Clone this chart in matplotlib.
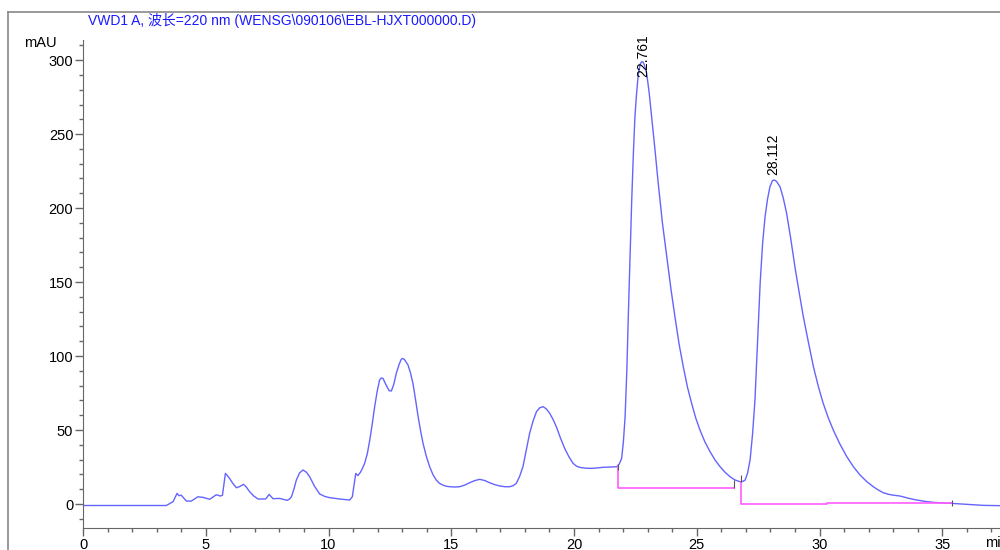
import matplotlib
matplotlib.use("Agg")
import matplotlib.pyplot as plt
from matplotlib.lines import Line2D
from matplotlib.ticker import MultipleLocator

plt.rcParams['font.family'] = ['Liberation Sans', 'Noto Sans CJK SC', 'DejaVu Sans']

# signal (min, mAU)
time = [0, 3.39, 3.67, 3.83, 3.91, 4.0, 4.21, 4.41, 4.68, 4.89, 5.16, 5.43, 5.59, 5.68,
        5.80, 5.88, 5.97, 6.1, 6.25, 6.38, 6.54, 6.65, 6.79, 6.95, 7.13, 7.44, 7.58, 7.74,
        8.01, 8.31, 8.40, 8.49, 8.59, 8.69, 8.82, 8.96, 9.1, 9.23, 9.43, 9.64, 9.85, 10.05,
        10.46, 10.86, 10.97, 11.05, 11.11, 11.2, 11.3, 11.38, 11.47, 11.58, 11.68, 11.78,
        11.88, 11.98, 12.08, 12.15, 12.22, 12.30, 12.38, 12.47, 12.56, 12.66, 12.76, 12.88,
        12.96, 13.03, 13.10, 13.24, 13.34, 13.44, 13.55, 13.65, 13.75, 13.85, 13.98, 14.12,
        14.25, 14.39, 14.52, 14.66, 14.8, 14.94, 15.15, 15.34, 15.55, 15.75, 15.95, 16.16,
        16.36, 16.56, 16.77, 16.97, 17.18, 17.38, 17.52, 17.65, 17.78, 17.92, 18.05, 18.19,
        18.33, 18.47, 18.60, 18.74, 18.87, 19.01, 19.15, 19.28, 19.45, 19.62, 19.79, 19.96,
        20.1, 20.23, 20.43, 20.64, 20.9, 21.18, 21.5, 21.74, 21.84, 21.94, 22.01, 22.08,
        22.15, 22.21, 22.28, 22.35, 22.42, 22.48, 22.55, 22.62, 22.70, 22.76, 22.82, 22.88,
        22.96, 23.06, 23.16, 23.30, 23.43, 23.60, 23.78, 23.95, 24.11, 24.28, 24.45, 24.62,
        24.79, 24.96, 25.13, 25.33, 25.54, 25.75, 25.95, 26.15, 26.35, 26.55, 26.76, 26.88,
        26.97, 27.07, 27.17, 27.27, 27.37, 27.47, 27.58, 27.68, 27.78, 27.88, 27.98, 28.08,
        28.16, 28.25, 28.39, 28.52, 28.66, 28.83, 29.0, 29.17, 29.34, 29.55, 29.75, 29.95,
        30.15, 30.35, 30.56, 30.83, 31.11, 31.38, 31.65, 31.92, 32.19, 32.4, 32.6, 32.8,
        33.0, 33.28, 33.6, 33.96, 34.3, 34.64, 35.32, 36.0, 36.67, 37.35]
signal = [-1, -1, 1.6, 7.2, 5.6, 6, 2, 2, 4.9, 4.5, 3.2, 6.3, 5.4, 5.9,
          20.7, 19.2, 17.3, 14, 11, 11.8, 13.3, 11.5, 8.3, 5.5, 3.4, 3.4, 6.5, 3.6,
          3.8, 2.5, 3.2, 4.9, 10, 16.2, 21, 23, 21.5, 18.5, 12, 6.8, 5.1, 4.3,
          3.4, 2.7, 4.9, 14, 20.7, 19.2, 21.5, 24, 27.5, 34, 43.2, 54,
          65.8, 76, 83.8, 85.2, 84.9, 82, 79.3, 76.6, 76.4, 81, 88.3, 94.5,
          97.8, 98.4, 97.5, 93.9, 88.5, 81.5, 70, 59, 49.5, 41, 32.5, 25.2,
          20, 16.2, 14, 12.8, 12, 11.7, 11.5, 11.7, 12.8, 14.4, 15.8, 16.7,
          15.9, 14.4, 13.1, 12.2, 11.7, 11.7, 12.4, 14, 18.5, 25.2, 36, 47.7,
          56, 62.4, 65, 65.8, 64.3, 61.3, 57, 52.2, 44.5, 37.6, 32, 27.5,
          25.6, 24.8, 24.3, 24.1, 24.3, 24.8, 25, 25.2, 27, 30.9, 42, 59,
          90, 126.6, 165, 205.4, 238, 261.7, 278, 291, 297.5, 299, 298.5, 296,
          291, 278, 261.7, 239, 216.7, 190, 167, 145, 126.6, 108, 92.8, 79,
          68, 58, 50, 42, 35.4, 29.6, 25.2, 21.5, 18.5, 16.3, 15.1, 15.3,
          16.2, 21, 29.7, 47, 70.3, 108, 149, 176, 194, 206, 214.4, 218.5,
          219, 218, 214.4, 207, 196.4, 179, 160, 143, 126.6, 109, 92.8, 79.5,
          68, 58.5, 50, 40.5, 32, 25.2, 19.6, 15.2, 11.7, 9.4, 7.6, 6.6,
          6.0, 5.4, 4.0, 2.7, 1.8, 1.1, 0.5, -0.2, -0.9, -1.1]

# integration baselines
base1_t = [21.78, 21.78, 26.53]
base1_y = [25.5, 11, 11]
base2_t = [26.8, 26.8, 30.3, 30.3, 35.4]
base2_y = [14.7, 0, 0, 0.4, 0.4]
event_t = [21.78, 26.53, 26.8, 35.4]
event_lo = [23, 11, 14.7, -1.5]
event_hi = [27, 16.5, 19.5, 2.5]

peak_rt = ['22.761', '28.112']
peak_x = [22.81, 28.1]
peak_y = [288.5, 222.5]

fig = plt.figure(figsize=(10, 5.5), dpi=100)
ax = fig.add_axes([0.083, 0.04, 0.917, 0.887])

ax.plot(time, signal, color='#6464ff', lw=1.0)
ax.plot(base1_t, base1_y, color='#ff5cff', lw=1.2)
ax.plot(base2_t, base2_y, color='#ff5cff', lw=1.2)
ax.vlines(event_t, event_lo, event_hi, color='#555555', lw=0.8)

for lab, x, y in zip(peak_rt, peak_x, peak_y):
    ax.text(x, y, lab, rotation=90, ha='center', va='bottom', fontsize=10)

ax.set_xlim(0, 37.35)
ax.set_ylim(-16.2, 313.5)
ax.xaxis.set_major_locator(MultipleLocator(5))
ax.xaxis.set_minor_locator(MultipleLocator(1))
ax.yaxis.set_major_locator(MultipleLocator(50))
ax.yaxis.set_minor_locator(MultipleLocator(10))
ax.tick_params(which='major', length=6, width=1, color='#666666', labelsize=10.5, pad=1)
ax.tick_params(which='minor', length=3, width=1, color='#666666')
for s in ['top', 'right']:
    ax.spines[s].set_visible(False)
for s in ['left', 'bottom']:
    ax.spines[s].set_color('#666666')

fig.text(0.057, 0.921, 'mAU', ha='right', va='center', fontsize=10.5)
fig.text(0.985, 0.013, 'min', ha='left', va='center', fontsize=10.5)
fig.text(0.088, 0.962, 'VWD1 A, 波长=220 nm (WENSG\\090106\\EBL-HJXT000000.D)',
         color='#1a1aff', ha='left', va='center', fontsize=10)

# outer frame
fig.add_artist(Line2D([0.008, 0.008], [0.0, 0.978], color='#888888', lw=1.2))
fig.add_artist(Line2D([0.008, 1.0], [0.978, 0.978], color='#888888', lw=1.2))

fig.savefig('out.png', dpi=100)
